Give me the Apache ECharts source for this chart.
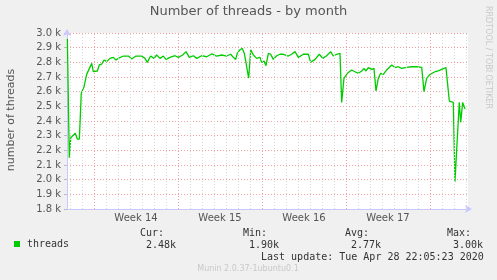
<!DOCTYPE html>
<html><head><meta charset="utf-8">
<script src="https://cdn.jsdelivr.net/npm/echarts@6/dist/echarts.min.js"></script>
<style>html,body{margin:0;padding:0;background:#f0f0f0;}#c{width:497px;height:280px;}</style>
</head><body><div id="c"></div>
<script>
// time in days from Monday of week 14 (00:00)
const days = [-2.22,-2.06,-1.94,-1.78,-1.56,-1.39,-1.22,-1.06,-0.83,-0.61,-0.19,-0.06,0.28,0.44,0.64,0.83,1.06,1.33,1.61,1.83,2.03,2.44,2.86,3.14,3.5,3.97,4.25,4.44,4.72,5.0,5.22,5.5,5.78,6.0,6.33,6.75,7.03,7.39,7.67,7.94,8.28,8.56,8.97,9.39,9.81,10.22,10.64,11.06,11.39,11.61,11.81,11.94,12.17,12.36,12.53,12.67,12.89,13.06,13.28,13.56,13.83,13.97,14.17,14.33,14.53,14.72,14.94,15.22,15.5,15.78,16.19,16.47,16.75,17.03,17.44,17.86,18.06,18.42,18.78,19.06,19.39,19.72,19.94,20.22,20.5,20.64,20.83,21.11,21.47,21.75,22.03,22.31,22.5,22.67,22.86,23.14,23.33,23.5,23.69,23.89,24.11,24.39,24.81,25.08,25.36,25.64,26.06,26.47,26.89,27.31,27.5,27.72,28.0,28.42,28.69,28.97,29.33,29.44,29.61,29.94,30.08,30.22,30.44,30.56,30.72,30.92];
const threads = [2960,2150,2286,2277,2316,2277,2277,2589,2634,2718,2793,2736,2741,2782,2787,2816,2805,2827,2834,2816,2827,2843,2843,2823,2843,2843,2827,2800,2843,2827,2850,2827,2843,2820,2834,2845,2834,2850,2873,2834,2845,2827,2845,2838,2857,2843,2850,2843,2855,2834,2820,2861,2886,2895,2861,2873,2693,2886,2850,2827,2834,2800,2809,2777,2861,2855,2820,2845,2855,2855,2843,2855,2873,2834,2855,2855,2800,2820,2855,2827,2845,2873,2843,2855,2861,2527,2691,2725,2748,2736,2725,2741,2759,2741,2764,2752,2759,2605,2691,2725,2718,2748,2782,2764,2770,2759,2766,2770,2770,2766,2600,2691,2718,2736,2741,2752,2764,2764,2536,2527,1986,1975,2527,2391,2527,2482];
const weekLines = [0,7,14,21,28];
const dayLines = [-2,-1,1,2,3,4,5,6,8,9,10,11,12,13,15,16,17,18,19,20,22,23,24,25,26,27,29,30,31];
const weekLabelPos = [3.5,10.5,17.5,24.5];
const weekLabels = ['Week 14','Week 15','Week 16','Week 17'];
const statNames = ['Cur:','Min:','Avg:','Max:'];
const statValues = ['2.48k','1.90k','2.77k','3.00k'];

const chart = echarts.init(document.getElementById('c'), null, {renderer:'canvas'});
const mono = 'DejaVu Sans Mono';
const statX = [140,243,345,447];
const graphics = [
  {type:'text', left:'center', top:5, style:{text:'Number of threads - by month', font:'13px "DejaVu Sans"', fill:'#555'}},
  {type:'text', x:11, y:120, rotation:Math.PI/2, style:{text:'number of threads', font:'11px "DejaVu Sans"', fill:'#555', align:'center', verticalAlign:'middle'}},
  {type:'text', x:488, y:6, rotation:-Math.PI/2, style:{text:'RRDTOOL / TOBI OETIKER', font:'8px "DejaVu Sans"', fill:'#c8c8c8', align:'left', verticalAlign:'middle'}},
  {type:'rect', shape:{x:14, y:241, width:6, height:6}, style:{fill:'#00cc00'}},
  {type:'text', x:27, y:244, style:{text:'threads', font:'10px "'+mono+'"', fill:'#333', verticalAlign:'middle'}},
  {type:'text', x:261, y:257, style:{text:'Last update: Tue Apr 28 22:05:23 2020', font:'10px "'+mono+'"', fill:'#333', verticalAlign:'middle'}},
  {type:'text', x:248, y:269, style:{text:'Munin 2.0.37-1ubuntu0.1', font:'8px "DejaVu Sans"', fill:'#c8c8c8', align:'center', verticalAlign:'middle'}}
];
statNames.forEach((n,i)=>{
  graphics.push({type:'text', x:statX[i], y:233, style:{text:n, font:'10px "'+mono+'"', fill:'#333', verticalAlign:'middle'}});
  graphics.push({type:'text', x:statX[i]+6, y:245, style:{text:statValues[i], font:'10px "'+mono+'"', fill:'#333', verticalAlign:'middle'}});
});

const vLines = [];
dayLines.forEach(d=>vLines.push({xAxis:d, lineStyle:{color:'#d8d8d8', type:[1,2], width:1}}));
weekLines.forEach(d=>vLines.push({xAxis:d, lineStyle:{color:'#f4a0a0', type:[1,2], width:1}}));

chart.setOption({
  backgroundColor:'#f0f0f0',
  animation:false,
  grid:{left:67, right:29, top:33, bottom:71, show:true, backgroundColor:'#ffffff', borderWidth:0},
  xAxis:{type:'value', min:-2.25, max:31.1667,
    axisLine:{show:true, lineStyle:{color:'#c8c8ff'}, symbol:['none','arrow'], symbolSize:[6,7], symbolOffset:[0,4]},
    axisTick:{show:false},
    splitLine:{show:false},
    axisLabel:{customValues:weekLabelPos, formatter:(v)=>{const i=weekLabelPos.indexOf(v);return i>=0?weekLabels[i]:'';}, color:'#555', fontFamily:'DejaVu Sans', fontSize:10, margin:4}
  },
  yAxis:{type:'value', min:1800, max:3000, interval:100,
    axisLine:{show:true, onZero:false, lineStyle:{color:'#c8c8ff'}, symbol:['none','arrow'], symbolSize:[6,7], symbolOffset:[0,4]},
    axisTick:{show:true, length:3, lineStyle:{color:'#bbb'}},
    splitLine:{show:true, lineStyle:{color:'#f4a0a0', type:[1,2], width:1}},
    axisLabel:{formatter:(v)=>(v/1000).toFixed(1)+' k', color:'#555', fontFamily:'DejaVu Sans', fontSize:10, margin:6}
  },
  series:[
    {type:'line', data:[], z:1, silent:true, markLine:{silent:true, symbol:['none','none'], label:{show:false}, animation:false, data:vLines}},
    {type:'line', z:3, data:days.map((d,i)=>[d,threads[i]]), showSymbol:false, lineStyle:{color:'#00cc00', width:1.3}, itemStyle:{color:'#00cc00'}}
  ],
  graphic:graphics
});
</script></body></html>
